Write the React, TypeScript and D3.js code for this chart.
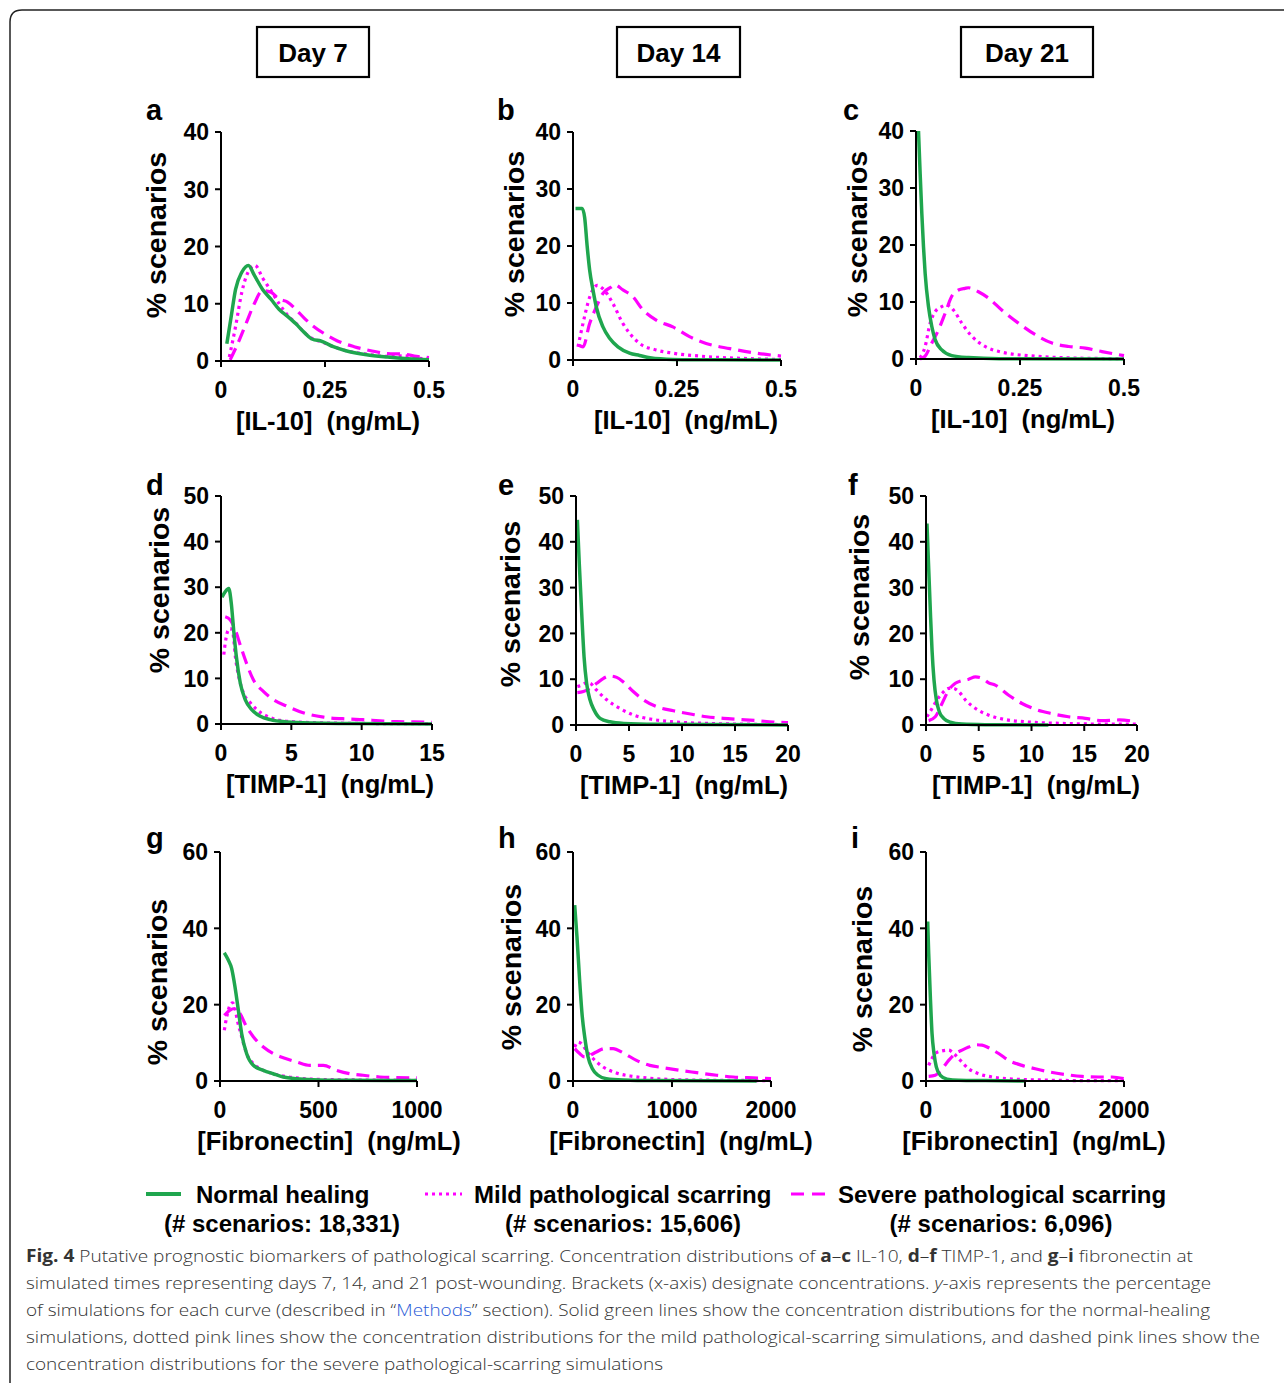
import React from "react";
import * as d3 from "d3";

type P = [number, number];

// ---------- tick labels ----------
const yTicks40 = [0, 10, 20, 30, 40];
const yTicks50 = [0, 10, 20, 30, 40, 50];
const yTicks60 = [0, 20, 40, 60];
const il10Ticks = [0, 0.25, 0.5];
const timpTicks15 = [0, 5, 10, 15];
const timpTicks20 = [0, 5, 10, 15, 20];
const fibTicks1000 = [0, 500, 1000];
const fibTicks2000 = [0, 1000, 2000];

const dayLabels = ["Day 7", "Day 14", "Day 21"];
const panelLetters = ["a", "b", "c", "d", "e", "f", "g", "h", "i"];
const xAxisLabels = ["[IL-10]  (ng/mL)", "[TIMP-1]  (ng/mL)", "[Fibronectin]  (ng/mL)"];
const yAxisLabel = "% scenarios";
const seriesNames = ["Normal healing", "Mild pathological scarring", "Severe pathological scarring"];
const seriesCounts = ["(# scenarios: 18,331)", "(# scenarios: 15,606)", "(# scenarios: 6,096)"];

// ---------- a: IL-10 day 7 ----------
const aNormal: P[] = [[0.014, 3], [0.025, 8], [0.035, 12.5], [0.05, 15.5], [0.066, 16.7], [0.08, 15], [0.1, 12.5], [0.12, 10.8], [0.14, 9], [0.16, 7.8], [0.18, 6.5], [0.2, 5], [0.22, 3.8], [0.24, 3.5], [0.27, 2.5], [0.3, 1.8], [0.35, 1.1], [0.4, 0.7], [0.45, 0.4], [0.5, 0.2]];
const aMild: P[] = [[0.02, 0.7], [0.035, 6], [0.05, 12], [0.065, 15.5], [0.082, 16.7], [0.1, 14.5], [0.12, 12.3], [0.14, 10], [0.16, 8], [0.18, 6.6], [0.2, 5], [0.22, 3.9], [0.24, 3.4], [0.27, 2.5], [0.3, 1.8], [0.35, 1.2], [0.4, 0.8], [0.44, 0.9], [0.47, 0.5], [0.5, 0.4]];
const aSevere: P[] = [[0.022, 0.2], [0.04, 3], [0.06, 6.5], [0.08, 10], [0.1, 12.3], [0.12, 12], [0.14, 10.8], [0.16, 10.3], [0.18, 9], [0.2, 7.5], [0.22, 6.2], [0.25, 4.7], [0.28, 3.5], [0.32, 2.5], [0.36, 1.8], [0.4, 1.3], [0.44, 1.2], [0.47, 0.8], [0.5, 0.6]];

// ---------- b: IL-10 day 14 ----------
const bNormal: P[] = [[0.006, 26.6], [0.022, 26.6], [0.028, 25], [0.034, 20], [0.04, 15.8], [0.048, 12.3], [0.056, 9.3], [0.072, 5.8], [0.088, 3.8], [0.108, 2.3], [0.136, 1.2], [0.16, 0.8], [0.185, 0.4], [0.24, 0.1], [0.3, 0.05], [0.5, 0]];
const bMild: P[] = [[0.012, 2.3], [0.024, 6.4], [0.04, 11], [0.052, 12.8], [0.058, 13.1], [0.072, 12.5], [0.096, 9.9], [0.12, 6.4], [0.136, 4.7], [0.16, 2.9], [0.2, 1.75], [0.24, 1.2], [0.32, 0.6], [0.4, 0.3], [0.5, 0.1]];
const bSevere: P[] = [[0.014, 2.6], [0.024, 2.3], [0.04, 6.4], [0.056, 9.3], [0.072, 11.7], [0.092, 12.8], [0.1, 13.2], [0.12, 12.3], [0.144, 11.1], [0.168, 8.8], [0.2, 7], [0.24, 5.8], [0.28, 4.1], [0.32, 2.9], [0.377, 2], [0.44, 1.2], [0.5, 0.7]];

// ---------- c: IL-10 day 21 ----------
const cNormal: P[] = [[0.006, 40], [0.01, 32.5], [0.014, 25.5], [0.018, 19.7], [0.022, 15], [0.03, 9.2], [0.038, 5.7], [0.046, 3.4], [0.062, 1.6], [0.086, 0.6], [0.126, 0.25], [0.2, 0.05], [0.5, 0]];
const cMild: P[] = [[0.01, 0.2], [0.022, 2.2], [0.034, 6.3], [0.046, 8.3], [0.062, 9.2], [0.074, 9.5], [0.09, 8.6], [0.11, 6.3], [0.134, 4], [0.166, 2.2], [0.206, 1.2], [0.286, 0.5], [0.367, 0.2], [0.5, 0.05]];
const cSevere: P[] = [[0.01, 0], [0.022, 0.5], [0.038, 2.8], [0.054, 5.1], [0.07, 8], [0.086, 11], [0.102, 12.1], [0.118, 12.4], [0.126, 12.5], [0.15, 11.8], [0.174, 10.7], [0.206, 8.6], [0.246, 6.3], [0.286, 4.3], [0.327, 2.8], [0.367, 2.2], [0.407, 1.9], [0.447, 1.3], [0.5, 0.6]];

// ---------- d: TIMP-1 day 7 ----------
const dNormal: P[] = [[0.07, 27.8], [0.3, 29], [0.55, 29.7], [0.73, 26.5], [0.9, 20.6], [1.09, 14.8], [1.37, 9], [1.73, 5.3], [2.2, 3.1], [2.8, 1.7], [3.5, 0.95], [4.7, 0.45], [6.6, 0.2], [9, 0.1], [15, 0]];
const dMild: P[] = [[0.2, 15.2], [0.3, 17.7], [0.47, 20.3], [0.66, 21], [0.85, 19.9], [1.02, 14.8], [1.26, 10.4], [1.6, 6.8], [2.1, 4.6], [2.56, 3.1], [3.27, 1.7], [4.2, 0.8], [5.4, 0.45], [7.8, 0.2], [15, 0.05]];
const dSevere: P[] = [[0.3, 23.5], [0.66, 22.8], [1.02, 20.6], [1.37, 17.3], [1.85, 13], [2.3, 9.7], [3.03, 7.1], [3.74, 5.3], [4.7, 3.9], [5.9, 2.4], [7.3, 1.5], [9, 1.1], [10.1, 0.95], [11.3, 0.7], [12.5, 0.5], [13.7, 0.45], [15, 0.35]];

// ---------- e: TIMP-1 day 14 ----------
const eNormal: P[] = [[0.13, 44.8], [0.31, 35.2], [0.54, 24.3], [0.76, 14.9], [1.0, 9.1], [1.32, 5.5], [1.7, 3.3], [2.27, 1.45], [3.2, 0.7], [4.5, 0.35], [7.6, 0.15], [20, 0]];
const eMild: P[] = [[0.13, 8.4], [0.54, 8.7], [1.0, 9.2], [1.32, 9.1], [1.95, 7.6], [2.9, 5.5], [4.16, 3.6], [5.4, 2.2], [7, 1.3], [9.2, 0.7], [12.3, 0.35], [15.5, 0.2], [20, 0.1]];
const eSevere: P[] = [[0.13, 7.05], [0.7, 7.3], [1.32, 8], [1.95, 9.1], [2.6, 10.2], [3.2, 10.7], [3.84, 10.4], [4.47, 9.4], [5.4, 7.3], [6.36, 5.5], [7.6, 4], [9.2, 3.1], [10.8, 2.4], [12.3, 1.8], [13.9, 1.45], [15.5, 1.2], [17.1, 0.95], [18.6, 0.65], [20, 0.5]];

// ---------- f: TIMP-1 day 21 ----------
const fNormal: P[] = [[0.09, 44], [0.25, 34.5], [0.41, 25], [0.57, 16.4], [0.76, 9.8], [0.98, 5.5], [1.26, 2.9], [1.67, 1.45], [2.3, 0.6], [3.4, 0.2], [5.6, 0.07], [11.6, 0]];
const fMild: P[] = [[0.09, 1.8], [0.57, 3.6], [1.04, 5.5], [1.52, 6.9], [2.15, 8], [2.6, 8], [3.1, 7.3], [3.73, 5.5], [4.7, 3.6], [5.9, 2.2], [7.5, 1.2], [9.7, 0.65], [12.9, 0.35], [16.7, 0.2], [20, 0.2]];
const fSevere: P[] = [[0.25, 0.95], [0.88, 1.8], [1.52, 4.7], [2.15, 7.6], [2.78, 9.1], [3.4, 9.7], [4.04, 10], [4.68, 10.5], [5.3, 10.2], [5.94, 9.2], [6.57, 8.7], [7.84, 6.5], [9.1, 4.7], [10.4, 3.4], [11.9, 2.5], [13.5, 1.8], [15.1, 1.45], [16.7, 0.95], [18.3, 1.1], [20, 0.7]];

// ---------- g: fibronectin day 7 ----------
const gNormal: P[] = [[22, 33.6], [42, 31.7], [59, 29.5], [76, 24.7], [93, 18.6], [110, 12.4], [135, 7.2], [169, 4.1], [220, 2.8], [270, 1.9], [321, 1.05], [389, 0.6], [473, 0.35], [642, 0.18], [1000, 0.1]];
const gMild: P[] = [[22, 13.3], [34, 16.8], [51, 19.9], [64, 20.5], [76, 19], [88, 15.9], [110, 11.6], [135, 7.2], [169, 4.6], [220, 2.8], [270, 1.9], [321, 1.3], [389, 0.8], [557, 0.35], [1000, 0.18]];
const gSevere: P[] = [[22, 17.2], [51, 18.6], [76, 19], [101, 17.7], [135, 14.2], [169, 11.6], [220, 8.9], [270, 7.2], [321, 6.1], [389, 5], [456, 4.1], [524, 4.1], [591, 2.8], [659, 1.9], [726, 1.5], [811, 1.05], [895, 0.9], [1000, 0.8]];

// ---------- h: fibronectin day 14 ----------
const hNormal: P[] = [[17, 46.1], [40, 37.8], [67, 26.4], [94, 16.8], [118, 11.6], [152, 6.3], [196, 3.2], [253, 1.5], [337, 0.6], [506, 0.26], [843, 0.1], [1855, 0]];
const hMild: P[] = [[17, 8.9], [50, 10.2], [84, 9.8], [135, 8], [202, 5.9], [303, 3.7], [438, 2.1], [607, 1.2], [843, 0.6], [1180, 0.26], [1518, 0.18], [2000, 0.1]];
const hSevere: P[] = [[17, 8.5], [67, 7.2], [118, 6.3], [169, 6.7], [236, 7.6], [320, 8.5], [405, 8.5], [506, 7.4], [641, 5.4], [776, 4.1], [911, 3.5], [1079, 2.8], [1248, 2.2], [1450, 1.5], [1619, 1.05], [1821, 0.8], [2000, 0.6]];

// ---------- i: fibronectin day 21 ----------
const iNormal: P[] = [[17, 41.8], [27, 33.5], [44, 22], [61, 12.4], [81, 7.2], [104, 3.7], [145, 1.5], [212, 0.5], [330, 0.18], [600, 0.1], [1003, 0]];
const iMild: P[] = [[27, 4.1], [61, 5.9], [94, 7.2], [162, 7.9], [229, 8.1], [280, 7.2], [347, 5.4], [431, 3.2], [532, 1.9], [667, 1.05], [869, 0.5], [1172, 0.26], [1609, 0.1], [2000, 0.1]];
const iSevere: P[] = [[27, 1.2], [94, 1.5], [162, 3.2], [229, 5.4], [296, 7.2], [364, 8.1], [431, 8.9], [498, 9.5], [566, 9.4], [633, 8.7], [734, 7.2], [835, 5.4], [970, 4.1], [1104, 3.2], [1239, 2.4], [1407, 1.7], [1576, 1.2], [1744, 1.05], [1879, 1.05], [2000, 0.6]];

// ---------- styling ----------
const GREEN = "#1fa64e";
const MAGENTA = "#ff00ff";
const FONT = "'Liberation Sans', Arial, Helvetica, sans-serif";
const CAPTION_FONT = "'Open Sans', 'Noto Sans', sans-serif";

type PanelCfg = {
  x0: number; x1: number; yTop: number; yBot: number;
  xDomain: [number, number]; yDomain: [number, number];
  xTicks: number[]; yTicks: number[]; xLabel: string; xLabelX: number;
  yLabelX: number; yLabelY: number; letterX: number; letterY: number;
  normal: P[]; mild: P[]; severe: P[];
};

const panels: PanelCfg[] = [
  { x0: 221, x1: 429, yTop: 132, yBot: 361, xDomain: [0, 0.5], yDomain: [0, 40], xTicks: il10Ticks, yTicks: yTicks40, xLabel: xAxisLabels[0], xLabelX: 328, yLabelX: 166, yLabelY: 235, letterX: 146, letterY: 120, normal: aNormal, mild: aMild, severe: aSevere },
  { x0: 573, x1: 781, yTop: 132, yBot: 360, xDomain: [0, 0.5], yDomain: [0, 40], xTicks: il10Ticks, yTicks: yTicks40, xLabel: xAxisLabels[0], xLabelX: 686, yLabelX: 524, yLabelY: 234, letterX: 497, letterY: 120, normal: bNormal, mild: bMild, severe: bSevere },
  { x0: 916, x1: 1124, yTop: 131, yBot: 359, xDomain: [0, 0.5], yDomain: [0, 40], xTicks: il10Ticks, yTicks: yTicks40, xLabel: xAxisLabels[0], xLabelX: 1023, yLabelX: 867, yLabelY: 234, letterX: 843, letterY: 120, normal: cNormal, mild: cMild, severe: cSevere },
  { x0: 221, x1: 432, yTop: 496, yBot: 724, xDomain: [0, 15], yDomain: [0, 50], xTicks: timpTicks15, yTicks: yTicks50, xLabel: xAxisLabels[1], xLabelX: 330, yLabelX: 169, yLabelY: 590, letterX: 146, letterY: 495, normal: dNormal, mild: dMild, severe: dSevere },
  { x0: 576, x1: 788, yTop: 496, yBot: 725, xDomain: [0, 20], yDomain: [0, 50], xTicks: timpTicks20, yTicks: yTicks50, xLabel: xAxisLabels[1], xLabelX: 684, yLabelX: 520, yLabelY: 604, letterX: 498, letterY: 495, normal: eNormal, mild: eMild, severe: eSevere },
  { x0: 926, x1: 1137, yTop: 496, yBot: 725, xDomain: [0, 20], yDomain: [0, 50], xTicks: timpTicks20, yTicks: yTicks50, xLabel: xAxisLabels[1], xLabelX: 1036, yLabelX: 869, yLabelY: 597, letterX: 848, letterY: 495, normal: fNormal, mild: fMild, severe: fSevere },
  { x0: 220, x1: 417, yTop: 852, yBot: 1081, xDomain: [0, 1000], yDomain: [0, 60], xTicks: fibTicks1000, yTicks: yTicks60, xLabel: xAxisLabels[2], xLabelX: 329, yLabelX: 167, yLabelY: 982, letterX: 146, letterY: 848, normal: gNormal, mild: gMild, severe: gSevere },
  { x0: 573, x1: 771, yTop: 852, yBot: 1081, xDomain: [0, 2000], yDomain: [0, 60], xTicks: fibTicks2000, yTicks: yTicks60, xLabel: xAxisLabels[2], xLabelX: 681, yLabelX: 521, yLabelY: 967, letterX: 498, letterY: 848, normal: hNormal, mild: hMild, severe: hSevere },
  { x0: 926, x1: 1124, yTop: 852, yBot: 1081, xDomain: [0, 2000], yDomain: [0, 60], xTicks: fibTicks2000, yTicks: yTicks60, xLabel: xAxisLabels[2], xLabelX: 1034, yLabelX: 872, yLabelY: 969, letterX: 851, letterY: 848, normal: iNormal, mild: iMild, severe: iSevere },
];

const dayBoxes = [
  { x: 257, w: 112 },
  { x: 617, w: 123 },
  { x: 961, w: 132 },
];

function Panel({ cfg, letter }: { cfg: PanelCfg; letter: string }) {
  const xs = d3.scaleLinear().domain(cfg.xDomain).range([cfg.x0, cfg.x1]);
  const ys = d3.scaleLinear().domain(cfg.yDomain).range([cfg.yBot, cfg.yTop]);
  const line = d3.line<P>().x((d) => xs(d[0])).y((d) => ys(d[1])).curve(d3.curveMonotoneX);
  return (
    <g>
      <text x={cfg.letterX} y={cfg.letterY} fontFamily={FONT} fontWeight="bold" fontSize={29} fill="#000">{letter}</text>
      <path d={line(cfg.severe) || ""} fill="none" stroke={MAGENTA} strokeWidth={3.2} strokeDasharray="13,7" />
      <path d={line(cfg.mild) || ""} fill="none" stroke={MAGENTA} strokeWidth={3.2} strokeDasharray="3,4" />
      <path d={line(cfg.normal) || ""} fill="none" stroke={GREEN} strokeWidth={3.5} strokeLinejoin="round" />
      <line x1={cfg.x0} x2={cfg.x0} y1={cfg.yTop} y2={cfg.yBot} stroke="#000" strokeWidth={2} />
      <line x1={cfg.x0} x2={cfg.x1} y1={cfg.yBot} y2={cfg.yBot} stroke="#000" strokeWidth={2} />
      {cfg.yTicks.map((t) => (
        <g key={"y" + t}>
          <line x1={cfg.x0 - 6} x2={cfg.x0} y1={ys(t)} y2={ys(t)} stroke="#000" strokeWidth={2} />
          <text x={cfg.x0 - 12} y={ys(t)} dy="0.36em" textAnchor="end" fontFamily={FONT} fontWeight="bold" fontSize={23} fill="#000">{String(t)}</text>
        </g>
      ))}
      {cfg.xTicks.map((t) => (
        <g key={"x" + t}>
          <line x1={xs(t)} x2={xs(t)} y1={cfg.yBot} y2={cfg.yBot + 6} stroke="#000" strokeWidth={2} />
          <text x={xs(t)} y={cfg.yBot + 37} textAnchor="middle" fontFamily={FONT} fontWeight="bold" fontSize={23} fill="#000">{String(t)}</text>
        </g>
      ))}
      <text x={cfg.xLabelX} y={cfg.yBot + 69} textAnchor="middle" fontFamily={FONT} fontWeight="bold" fontSize={25.5} fill="#000" style={{ whiteSpace: "pre" }}>{cfg.xLabel}</text>
      <text transform={`translate(${cfg.yLabelX},${cfg.yLabelY}) rotate(-90)`} textAnchor="middle" fontFamily={FONT} fontWeight="bold" fontSize={28.5} fill="#000">{yAxisLabel}</text>
    </g>
  );
}

export default function App() {
  const W = 1284, H = 1383;
  const legendY = 1194;
  const captionLines = [1262, 1289, 1316, 1343, 1370];
  return (
    <div style={{ position: "absolute", left: 0, top: 0, width: W, height: H, background: "#fff" }}>
      <svg width={W} height={H} viewBox={`0 0 ${W} ${H}`} xmlns="http://www.w3.org/2000/svg">
        <rect x={0} y={0} width={W} height={H} fill="#fff" />
        <path d={`M${W},10 H22 Q10,10 10,22 V${H}`} fill="none" stroke="#222" strokeWidth={1.5} />
        {dayLabels.map((d, i) => (
          <g key={d}>
            <rect x={dayBoxes[i].x} y={27} width={dayBoxes[i].w} height={50} fill="#fff" stroke="#000" strokeWidth={2.2} />
            <text x={dayBoxes[i].x + dayBoxes[i].w / 2} y={62} textAnchor="middle" fontFamily={FONT} fontWeight="bold" fontSize={26} fill="#000">{d}</text>
          </g>
        ))}
        {panels.map((p, i) => (
          <Panel key={i} cfg={p} letter={panelLetters[i]} />
        ))}
        <g fontFamily={FONT} fontWeight="bold" fontSize={24} fill="#000">
          <line x1={146} x2={181} y1={legendY} y2={legendY} stroke={GREEN} strokeWidth={4} />
          <text x={196} y={1203}>{seriesNames[0]}</text>
          <text x={282} y={1232} textAnchor="middle">{seriesCounts[0]}</text>
          <line x1={425} x2={462} y1={legendY} y2={legendY} stroke={MAGENTA} strokeWidth={3.2} strokeDasharray="3,4" />
          <text x={474} y={1203}>{seriesNames[1]}</text>
          <text x={623} y={1232} textAnchor="middle">{seriesCounts[1]}</text>
          <line x1={791} x2={826} y1={legendY} y2={legendY} stroke={MAGENTA} strokeWidth={3.2} strokeDasharray="13,8" />
          <text x={838} y={1203}>{seriesNames[2]}</text>
          <text x={1001} y={1232} textAnchor="middle">{seriesCounts[2]}</text>
        </g>
        <g fontFamily={CAPTION_FONT} fontSize={17} fontWeight={300} fill="#333" style={{ whiteSpace: "pre" }}>
          <text x={26} y={captionLines[0]} textLength={1167} lengthAdjust="spacingAndGlyphs">
            <tspan fontWeight="bold">Fig. 4</tspan>
            <tspan>{"  Putative prognostic biomarkers of pathological scarring. Concentration distributions of "}</tspan>
            <tspan fontWeight="bold">a</tspan><tspan>–</tspan><tspan fontWeight="bold">c</tspan>
            <tspan>{" IL-10, "}</tspan>
            <tspan fontWeight="bold">d</tspan><tspan>–</tspan><tspan fontWeight="bold">f</tspan>
            <tspan>{" TIMP-1, and "}</tspan>
            <tspan fontWeight="bold">g</tspan><tspan>–</tspan><tspan fontWeight="bold">i</tspan>
            <tspan>{" fibronectin at"}</tspan>
          </text>
          <text x={26} y={captionLines[1]} textLength={1185} lengthAdjust="spacingAndGlyphs">
            <tspan>{"simulated times representing days 7, 14, and 21 post-wounding. Brackets (x-axis) designate concentrations. "}</tspan>
            <tspan fontStyle="italic">y</tspan>
            <tspan>{"-axis represents the percentage"}</tspan>
          </text>
          <text x={26} y={captionLines[2]} textLength={1184} lengthAdjust="spacingAndGlyphs">
            <tspan>{"of simulations for each curve (described in “"}</tspan>
            <tspan fill="#2a5bd7">Methods</tspan>
            <tspan>{"” section). Solid green lines show the concentration distributions for the normal-healing"}</tspan>
          </text>
          <text x={26} y={captionLines[3]} textLength={1234} lengthAdjust="spacingAndGlyphs">
            simulations, dotted pink lines show the concentration distributions for the mild pathological-scarring simulations, and dashed pink lines show the
          </text>
          <text x={26} y={captionLines[4]} textLength={637} lengthAdjust="spacingAndGlyphs">
            concentration distributions for the severe pathological-scarring simulations
          </text>
        </g>
      </svg>
    </div>
  );
}
